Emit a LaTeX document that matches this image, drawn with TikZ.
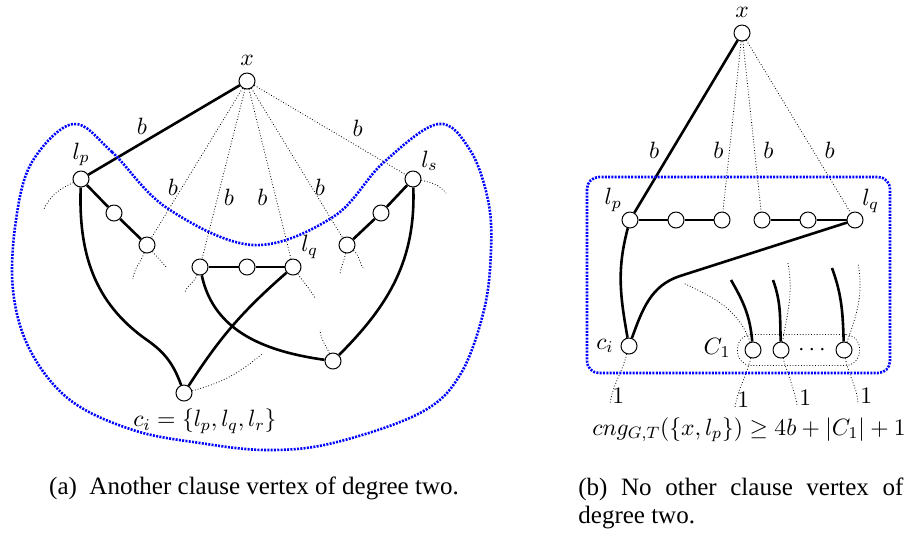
\RequirePackage{fix-cm}
\documentclass[tikz,border=0pt]{standalone}
\usepackage{fontspec}
\newfontfamily\capfont{Liberation Serif}
\usetikzlibrary{fit}
\begin{document}
\begin{tikzpicture}[x=0.5pt,y=-0.5pt,font=\fontsize{11.8}{14}\selectfont,
		vertex/.style={draw,circle,fill=white,minimum size=8pt,inner sep=0pt,line width=0.5pt},
		heavy/.style={line width=1.3pt},
		faint/.style={densely dotted,line width=0.4pt},
		weight/.style={inner sep=1pt},
		region/.style={blue,line width=1.3pt,dash pattern=on 1pt off 0.65pt},
		capstyle/.style={font=\capfont\fontsize{12.5}{14}\selectfont,inner sep=0pt}]
		\useasboundingbox (0,0) rectangle (904,538);

		% (a)
		\node[vertex,label=above:$x$] (xa) at (247,81) {};
		\node[vertex,label={[inner sep=2pt]above:$l_p$}] (lpa) at (81,179) {};
		\node[vertex] (pa1) at (114,213) {};
		\node[vertex] (pa2) at (147,245) {};
		\node[vertex] (qa0) at (200,267) {};
		\node[vertex] (qa1) at (247,267) {};
		\node[vertex,label={[inner sep=1pt]above right:$l_q$}] (lqa) at (293,267) {};
		\node[vertex,label={[inner sep=1pt]above right:$l_s$}] (lsa) at (413,179) {};
		\node[vertex] (sa1) at (381,213) {};
		\node[vertex] (sa2) at (347,245) {};
		\node[vertex] (cia) at (184,393) {};
		\node[vertex] (ra) at (333,361) {};
		\node (cilabel) at (205,421) {$c_i=\{l_p,l_q,l_r\}$};

		\draw[heavy] (xa) -- node[weight,pos=0.59,above left] {$b$} (lpa);
		\draw[faint] (xa) -- node[weight,pos=0.66,left=1pt] {$b$} (pa2);
		\draw[faint] (xa) -- node[weight,pos=0.64,right=2pt] {$b$} (qa0);
		\draw[faint] (xa) -- node[weight,pos=0.64,left=3pt] {$b$} (lqa);
		\draw[faint] (xa) -- node[weight,pos=0.66,right=0.5pt] {$b$} (sa2);
		\draw[faint] (xa) -- node[weight,pos=0.62,above right=1pt] {$b$} (lsa);

		\draw[heavy] (lpa) -- (pa1) -- (pa2);
		\draw[heavy] (lsa) -- (sa1) -- (sa2);
		\draw[heavy] (qa0) -- (qa1) -- (lqa);
		\draw[heavy] (lpa) to[out=-92,in=145] (147,340) to[out=-35,in=110] (cia);
		\draw[heavy] (cia) to[bend left=8] (lqa);
		\draw[heavy] (qa0) to[out=-78,in=172] (ra);
		\draw[heavy] (lsa) to[out=-88,in=45] (ra);

		\draw[faint] (lpa) to[out=205,in=65] ++(-37,30);
		\draw[faint] (pa2) to[out=250,in=85] ++(-14,34);
		\draw[faint] (pa2) to[out=-50,in=130] ++(20,23);
		\draw[faint] (qa0) to[out=250,in=70] ++(-15,25);
		\draw[faint] (lqa) to[out=-55,in=120] ++(22,31);
		\draw[faint] (sa2) to[out=260,in=85] ++(-7,30);
		\draw[faint] (sa2) to[out=-40,in=120] ++(16,23);
		\draw[faint] (lsa) to[out=-10,in=130] ++(33,14);
		\draw[faint] (ra) to[out=115,in=-85] ++(-13,-31);
		\draw[faint] (cia) to[out=15,in=-140] ++(78,-39);

		\draw[region] plot[smooth cycle,tension=0.6] coordinates {(73,124) (112,152) (167,208) (253,245)
			(333,217) (383,163) (438,124) (470,150) (488,200) (491,250) (484,310) (460,375)
			(420,413) (333,443) (267,450) (200,443) (133,430) (70,400) (30,350) (13,290)
			(16,220) (32,162)};

		% (b)
		\node[vertex,label=above:$x$] (xb) at (742,33) {};
		\node[vertex,label={[inner sep=1pt]above left:$l_p$}] (lpb) at (630,220) {};
		\node[vertex] (pb1) at (676,220) {};
		\node[vertex] (pb2) at (722,220) {};
		\node[vertex] (qb2) at (762,220) {};
		\node[vertex] (qb1) at (808,220) {};
		\node[vertex,label={[inner sep=0.5pt]above right:$l_q$}] (lqb) at (855,220) {};
		\node[vertex,label=left:$c_i$] (cib) at (629,346) {};
		\node[vertex] (cb1) at (753,350) {};
		\node[vertex] (cb2) at (781,350) {};
		\node[vertex] (cb3) at (844,350) {};
		\node (dots) at (812,350) {$\cdots$};
		\node (cone) at (717,348) {$C_1$};
		\node[fit=(cb1)(cb3),draw,faint,rounded corners=7pt,inner sep=3.5pt] (grp) {};

		\draw[heavy] (xb) -- node[weight,pos=0.64,left=4.5pt] {$b$} (lpb);
		\draw[faint] (xb) -- node[weight,pos=0.64,left=1.8pt] {$b$} (pb2);
		\draw[faint] (xb) -- node[weight,pos=0.64,right=3.2pt] {$b$} (qb2);
		\draw[faint] (xb) -- node[weight,pos=0.64,right=4.5pt] {$b$} (lqb);

		\draw[heavy] (lpb) -- (pb1) -- (pb2);
		\draw[heavy] (qb2) -- (qb1) -- (lqb);
		\draw[heavy] (lpb) to[out=-105,in=100] (cib);
		\draw[heavy] (lqb) -- (680,276) to[out=198,in=70] (cib);
		\draw[heavy] (cb1) to[out=95,in=-60] ++(-22,-70);
		\draw[heavy] (cb2) to[out=92,in=-70] ++(-8,-70);
		\draw[heavy] (cb3) to[out=92,in=-70] ++(-12,-82);

		\draw[faint] (cb1) to[out=110,in=-25] ++(-70,-67);
		\draw[faint] (cb2) to[out=80,in=-80] ++(7,-87);
		\draw[faint] (cb3) to[out=70,in=-80] ++(14,-87);

		\draw[faint] (cib) to[out=-105,in=80] ++(-19,57) node[anchor=base west,inner sep=1pt] {$1$};
		\draw[faint] (cb1) to[out=-105,in=80] ++(-18,57) node[anchor=base west,inner sep=1pt] {$1$};
		\draw[faint] (cb2) to[out=-75,in=100] ++(16,55) node[anchor=base west,inner sep=1pt] {$1$};
		\draw[faint] (cb3) to[out=-80,in=95] ++(14,53) node[anchor=base west,inner sep=1pt] {$1$};

		\node[anchor=base] (bound) at (749,435) {$cng_{G,T}(\{x,l_p\})\geq 4b+|C_1|+1$};

		\draw[region,rounded corners=6pt] (587,177) rectangle (890,373);

		% captions
		\node[capstyle,anchor=base] (capa) at (254,494) {(a)\ \ Another clause vertex of degree two.};
		\node[capstyle,anchor=north west,text width=162.5pt,align=justify] (capb) at (578,477)
			{(b) No other clause vertex of\linebreak degree two.};
	\end{tikzpicture}
\end{document}
